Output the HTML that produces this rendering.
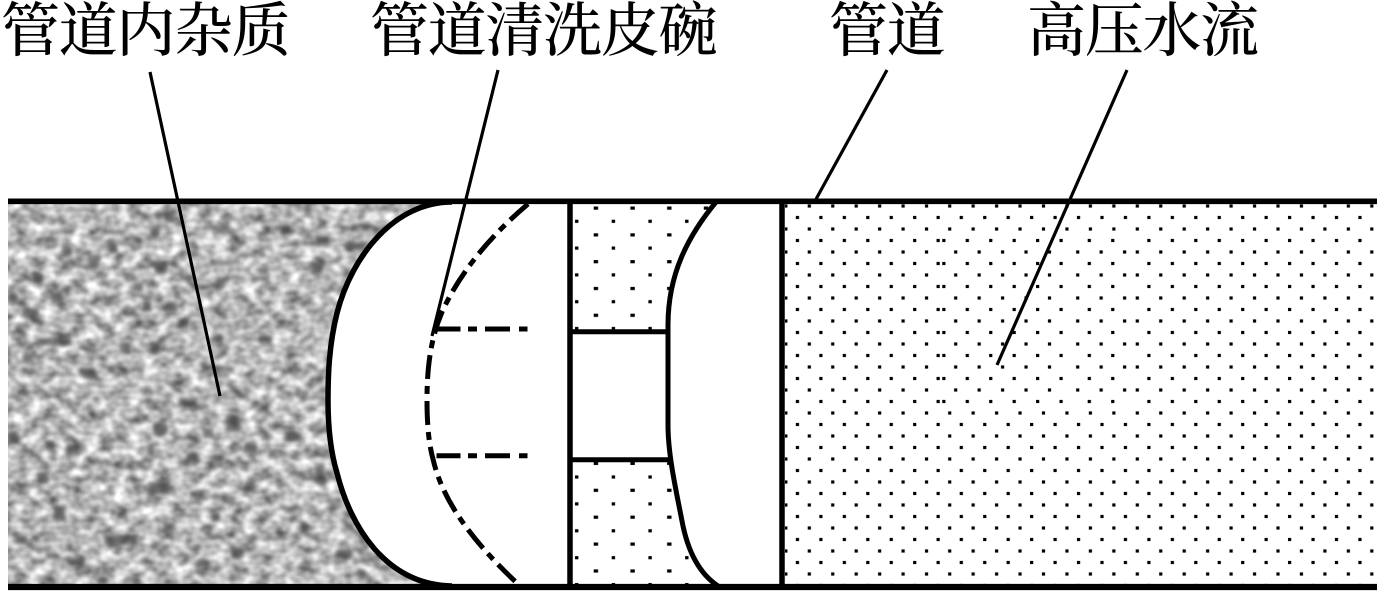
<!DOCTYPE html>
<html lang="zh">
<head>
<meta charset="utf-8">
<title>管道清洗</title>
<style>
html,body{margin:0;padding:0;background:#fff;}
body{width:1377px;height:591px;overflow:hidden;}
svg{display:block;}
text{font-family:"Liberation Serif","Noto Serif CJK SC",serif;font-size:59px;letter-spacing:-1.3px;fill:#000;font-weight:500;}
</style>
</head>
<body>
<svg xmlns="http://www.w3.org/2000/svg" width="1377" height="591" viewBox="0 0 1377 591">
<defs>
<filter id="noise" x="0" y="0" width="100%" height="100%" color-interpolation-filters="sRGB">
<feTurbulence type="fractalNoise" baseFrequency="0.07 0.085" numOctaves="2" seed="7"/>
<feColorMatrix type="matrix" values="0.95 0 0 0 0.24  0.95 0 0 0 0.24  0.95 0 0 0 0.24  0 0 0 0 1"/>
</filter>
<filter id="soft" x="-5%" y="-5%" width="110%" height="110%"><feGaussianBlur stdDeviation="2"/></filter>
<clipPath id="nc"><rect x="8" y="201" width="450" height="386"/></clipPath>
<pattern id="r1" patternUnits="userSpaceOnUse" x="780.85" y="201" width="23.45" height="23"><rect x="3.4" y="3.4" width="3.2" height="3.2"/><rect x="15" y="14.9" width="3.2" height="3.2"/></pattern>
<pattern id="r2" patternUnits="userSpaceOnUse" x="944.7" y="201" width="23.45" height="23"><rect x="3.4" y="3.4" width="3.2" height="3.2"/><rect x="15" y="14.9" width="3.2" height="3.2"/></pattern>
<pattern id="r3" patternUnits="userSpaceOnUse" x="950.7" y="201" width="23.45" height="23"><rect x="3.4" y="3.4" width="3.2" height="3.2"/><rect x="15" y="14.9" width="3.2" height="3.2"/></pattern>
<pattern id="r4" patternUnits="userSpaceOnUse" x="1072.7" y="201" width="23.45" height="23"><rect x="3.4" y="3.4" width="3.2" height="3.2"/><rect x="15" y="14.9" width="3.2" height="3.2"/></pattern>
<pattern id="m1" patternUnits="userSpaceOnUse" x="570" y="201" width="36.7" height="26.8"><rect x="23.7" y="5.5" width="4.4" height="3.2"/><rect x="5" y="18.7" width="3.4" height="3.2"/></pattern>
<pattern id="m2" patternUnits="userSpaceOnUse" x="570" y="457" width="36.7" height="26.9"><rect x="23.7" y="4.8" width="4.4" height="3.2"/><rect x="5" y="18.4" width="3.4" height="3.2"/></pattern>
</defs>

<rect width="1377" height="591" fill="#fff"/>

<!-- impurities -->
<g clip-path="url(#nc)">
<rect x="8" y="201" width="450" height="386" filter="url(#noise)"/>
<g fill="#3a3a3a" fill-opacity=".68" filter="url(#soft)">
<rect x="88" y="257" width="12" height="12"/><rect x="155" y="262" width="12" height="12"/><rect x="62" y="247" width="10" height="10"/><rect x="33" y="273" width="10" height="10"/><rect x="133" y="282" width="10" height="10"/><rect x="51" y="292" width="12" height="12"/><rect x="8" y="293" width="10" height="10"/><rect x="143" y="301" width="8" height="10"/><rect x="167" y="301" width="10" height="10"/><rect x="22" y="308" width="16" height="10"/><rect x="178" y="318" width="10" height="10"/><rect x="40" y="338" width="30" height="8"/><rect x="119" y="342" width="12" height="12"/><rect x="150" y="342" width="10" height="12"/><rect x="22" y="353" width="12" height="9"/><rect x="215" y="279" width="10" height="10"/><rect x="220" y="223" width="10" height="9"/><rect x="280" y="225" width="10" height="10"/><rect x="150" y="227" width="10" height="10"/><rect x="347" y="243" width="18" height="8"/><rect x="316" y="236" width="12" height="8"/><rect x="109" y="241" width="8" height="12"/><rect x="212" y="334" width="10" height="8"/><rect x="312" y="262" width="10" height="12"/><rect x="259" y="335" width="12" height="8"/><rect x="79" y="368" width="16" height="9"/><rect x="165" y="210" width="10" height="10"/>
<rect x="178" y="399" width="18" height="8"/><rect x="153" y="423" width="14" height="12"/><rect x="226" y="416" width="14" height="14"/><rect x="203" y="428" width="10" height="10"/><rect x="8" y="431" width="10" height="12"/><rect x="66" y="444" width="14" height="12"/><rect x="45" y="441" width="10" height="9"/><rect x="186" y="453" width="12" height="10"/><rect x="212" y="454" width="12" height="8"/><rect x="244" y="443" width="12" height="10"/><rect x="285" y="433" width="16" height="9"/><rect x="37" y="472" width="12" height="12"/><rect x="315" y="463" width="10" height="20"/><rect x="245" y="481" width="10" height="11"/><rect x="148" y="482" width="22" height="12"/><rect x="190" y="491" width="14" height="7"/><rect x="54" y="505" width="12" height="16"/><rect x="211" y="513" width="8" height="9"/><rect x="105" y="535" width="32" height="10"/><rect x="163" y="523" width="10" height="9"/><rect x="16" y="535" width="12" height="9"/><rect x="232" y="548" width="12" height="10"/><rect x="335" y="549" width="16" height="9"/><rect x="67" y="558" width="18" height="8"/><rect x="197" y="559" width="12" height="8"/><rect x="358" y="570" width="8" height="10"/><rect x="300" y="522" width="7" height="12"/><rect x="98" y="576" width="10" height="8"/>
</g>
</g>

<!-- right dotted fluid -->
<rect x="785" y="204" width="156" height="380" fill="url(#r1)"/>
<rect x="941" y="204" width="189" height="31" fill="url(#r2)"/>
<rect x="941" y="235" width="127" height="172" fill="url(#r3)"/>
<rect x="1068" y="235" width="62" height="172" fill="url(#r4)"/>
<rect x="941" y="407" width="189" height="177" fill="url(#r2)"/>
<rect x="1130" y="204" width="245" height="380" fill="url(#r2)"/>

<!-- middle dotted fluid -->
<rect x="572" y="204" width="150" height="126" fill="url(#m1)"/>
<rect x="572" y="462" width="150" height="122" fill="url(#m2)"/>

<!-- right cup -->
<path d="M716 202 C688 236 668 274 668 325 L668 425 C668 455 676 490 682 521 C687 548 697 572 718 586 L780 586 L780 202 Z" fill="#fff" stroke="none"/>
<path d="M716 202 C688 236 668 274 668 325 L668 425 C668 455 676 490 682 521 C687 548 697 572 718 586" fill="none" stroke="#000" stroke-width="5"/>

<!-- left dome -->
<path d="M452 202 C395 202 352 255 337 313 C329 345 328 375 328 400 C328 425 330 450 337 473 C350 525 385 585 452 586 L569 586 L569 202 Z" fill="#fff" stroke="none"/>
<path d="M452 202 C395 202 352 255 337 313 C329 345 328 375 328 400 C328 425 330 450 337 473 C350 525 385 585 452 586" fill="none" stroke="#000" stroke-width="5.5"/>

<!-- dash-dot inner profile -->
<path d="M528 204 C495 232 462 268 442 312 C430 340 427 370 427 400 C427 425 429 445 433 459 C440 490 460 530 518 584" fill="none" stroke="#000" stroke-width="5" stroke-dasharray="24 7 8 7"/>
<path d="M436.5 329 H460.5 M468 329 H477 M485 329 H510 M519 329 H527.5 M436.5 455.7 H460.5 M468 455.7 H477 M485 455.7 H510 M519 455.7 H527.5" fill="none" stroke="#000" stroke-width="5"/>

<!-- structure lines -->
<path d="M570 201 V587 M782 201 V587" fill="none" stroke="#000" stroke-width="5.5"/>
<path d="M570 331.7 H668 M570 459.7 H670" fill="none" stroke="#000" stroke-width="5"/>
<path d="M8 201.3 H1377" fill="none" stroke="#000" stroke-width="5.6"/>
<path d="M8 587 H1377" fill="none" stroke="#000" stroke-width="6.2"/>

<!-- leader lines -->
<path d="M150 72 L220 396 M498 70 L432 336 M887 70 L815 201 M1127 70 L997 365" fill="none" stroke="#000" stroke-width="3.2"/>

<!-- labels -->
<text x="1" y="51">管道内杂质</text>
<text x="370" y="51">管道清洗皮碗</text>
<text x="829" y="51">管道</text>
<text x="1027" y="51">高压水流</text>
</svg>
</body>
</html>
